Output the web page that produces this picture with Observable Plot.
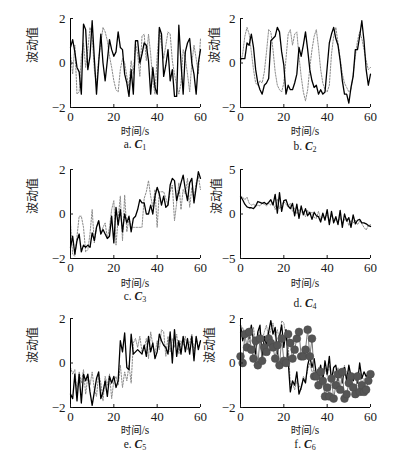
<!DOCTYPE html>
<html><head><meta charset="utf-8">
<script src="https://cdn.jsdelivr.net/npm/d3@7"></script>
<script src="https://cdn.jsdelivr.net/npm/@observablehq/plot@0.6"></script>
<style>
body{margin:0;background:#fff;}
#c{position:relative;width:398px;height:460px;overflow:hidden;font-family:"Liberation Serif","Noto Sans CJK SC",serif;color:#1a1a1a;}
.p{position:absolute;}
.lbl{position:absolute;width:130px;text-align:center;line-height:10px;height:10px;white-space:nowrap;font-family:"Liberation Serif","Noto Sans CJK SC",serif;}
.xl{font-size:10.5px;}
.xl span{font-size:11.5px;}
.cap{font-size:11.5px;}
.cap sub{font-size:8px;vertical-align:-2px;line-height:0;}
</style></head><body><div id="c"></div><script>
const time = [0,1,2,3,4,5,6,7,8,9,10,11,12,13,14,15,16,17,18,19,20,21,22,23,24,25,26,27,28,29,30,31,32,33,34,35,36,37,38,39,40,41,42,43,44,45,46,47,48,49,50,51,52,53,54,55,56,57,58,59,60];
const xTicks = [0,20,40,60];
const yTicks2 = [-2,0,2];
const yTicks5 = [-5,0,5];

const c1Solid = [0.7,1.05,0.5,-0.2,-0.4,-1.4,1.75,1.5,-0.3,0.3,1.9,0.2,-1.4,0.0,1.3,0.0,-0.8,0.1,1.05,0.6,0.3,0.5,1.4,0.7,0.6,-0.5,-0.9,-1.5,-0.3,-1.4,1.0,1.0,0.0,0.4,0.9,0.8,0.1,-1.4,-0.2,-1.1,-1.4,1.6,1.3,-0.6,-0.1,0.6,-0.8,-0.3,-1.5,-1.5,1.7,0.0,-1.4,0.5,0.9,1.1,0.0,-0.5,-1.4,0.0,0.6];
const c1Dotted = [0.4,-0.5,0.8,-1.4,-1.3,0.3,0.9,-0.2,0.6,1.6,1.2,-0.3,-1.0,0.2,0.9,1.6,1.4,1.0,0.3,-0.2,-0.8,-1.2,-1.3,-0.3,0.2,0.0,-0.6,-1.1,0.1,-0.5,0.9,0.4,-0.6,1.2,1.3,0.1,1.3,0.4,-0.8,-1.4,0.3,1.5,0.8,0.2,0.8,1.4,1.3,0.1,-0.5,-1.0,-1.4,-0.9,0.6,0.2,-0.5,-1.3,0.0,0.8,0.2,-0.5,1.1];

const c2Solid = [0.2,0.2,0.2,0.9,0.8,1.3,0.7,-0.3,-0.9,-1.2,-1.4,-1.0,-0.9,-0.7,1.0,1.1,1.2,1.6,1.4,0.5,-0.1,-1.4,-1.0,-1.2,-1.2,-0.9,-0.5,0.7,0.3,0.8,1.4,0.6,-0.3,-0.8,-1.1,-1.0,-1.4,-1.2,-1.4,-1.3,-0.2,0.9,1.3,1.6,1.1,0.8,0.1,-0.8,-1.4,-1.4,-1.8,-1.1,-0.6,0.6,0.6,1.2,1.9,1.0,-0.3,-1.0,-0.5];
const c2Dotted = [0.0,0.4,1.2,1.6,1.3,0.5,-0.3,-0.9,-1.0,-0.8,-0.9,-0.4,0.5,1.5,1.4,0.6,-0.4,-1.0,-1.2,-1.3,-0.9,0.2,1.3,1.5,0.8,1.3,1.4,0.3,-0.6,-1.3,-1.7,-1.2,-0.2,0.6,1.2,1.5,0.7,-0.3,-0.9,-1.2,-1.3,-1.0,0.4,1.2,1.6,0.9,0.2,-0.5,-0.9,-1.1,-1.3,-1.2,-0.5,0.3,1.0,1.4,1.1,0.6,0.1,-0.3,-0.2];

const c3Solid = [-1.5,-1.0,-1.8,-1.2,-0.9,-1.7,-1.4,-1.5,-1.4,-1.5,-0.85,-1.2,-0.6,-0.3,-0.9,-0.7,-0.9,-1.1,-1.0,-0.1,-1.3,0.3,-0.5,0.2,-0.8,0.0,-0.4,-0.1,-0.8,-0.2,-0.1,0.2,0.65,0.5,0.5,0.0,0.0,0.4,0.0,0.8,1.2,0.9,0.4,0.8,0.3,0.4,1.3,1.6,1.5,0.6,1.0,1.4,1.75,1.1,0.6,1.4,1.6,0.5,1.2,1.9,1.6];
const c3Dotted = [-0.4,-1.8,-1.9,-1.0,-0.1,-0.1,-0.6,-1.7,-1.6,-0.9,0.2,-1.3,-0.6,-0.3,-0.9,-0.6,-0.4,-1.1,-0.6,0.2,0.6,-1.4,-0.2,0.8,-1.2,0.85,-0.8,-0.2,-0.6,-0.6,-0.6,-0.6,-0.6,-0.6,0.7,1.0,1.5,0.8,0.3,1.1,-0.6,1.0,1.0,1.0,0.7,0.4,1.0,1.3,-0.3,0.5,1.4,0.2,1.1,0.9,1.6,0.3,1.2,0.6,1.4,1.7,1.1];

const c4Solid = [2.0,1.6,1.1,0.8,0.7,0.7,0.6,0.9,1.4,1.3,1.2,1.3,1.1,1.3,1.6,1.0,2.2,0.1,2.4,0.3,1.5,1.6,0.9,0.6,1.2,-0.2,1.1,-0.5,0.9,-0.1,0.6,-0.2,0.2,-0.6,0.2,-0.2,-0.3,-0.9,0.1,-0.7,0.5,-1.2,0.3,-1.0,-0.3,-1.2,0.4,-1.5,0.0,-0.8,-0.4,-1.5,-0.1,-1.1,-0.7,-0.6,-1.0,-1.0,-1.1,-1.3,-1.4];
const c4Dotted = [1.8,1.9,1.6,1.9,1.2,1.0,1.1,0.9,1.0,0.9,1.2,1.1,0.9,1.2,1.0,1.3,0.5,1.7,0.6,1.0,1.4,1.1,0.8,1.2,0.3,0.7,0.0,0.5,0.2,0.3,-0.3,0.4,-0.1,0.2,-0.4,-0.5,0.3,-0.6,-0.3,-0.4,-0.1,-0.8,-0.2,-0.6,-0.7,-0.9,-0.3,-1.1,-0.6,-0.5,-1.3,-0.7,-1.0,-0.7,-1.2,-0.8,-1.1,-1.5,-1.8,-1.3,-1.2];

const c5Solid = [-1.4,-1.6,-0.5,-1.7,-0.5,-1.8,-0.5,-0.8,-0.5,-1.3,-1.9,-1.3,-0.7,-0.4,-1.6,-1.3,-0.8,-1.5,-0.6,-0.9,-0.6,-1.1,-0.8,1.0,0.5,1.35,-0.2,-0.3,1.3,0.4,0.5,0.6,0.5,0.4,0.8,0.3,1.2,0.5,0.9,0.2,0.5,1.3,1.0,0.8,0.7,0.4,1.4,0.0,1.5,0.3,1.0,0.4,1.2,0.5,1.1,0.4,1.2,0.1,1.2,0.6,1.0];
const c5Dotted = [-0.2,-0.5,-0.3,-1.3,-0.4,-0.9,-0.3,-1.4,-0.6,-1.0,-0.4,-1.2,-1.5,-0.5,-0.9,-1.7,-0.6,-1.0,-0.5,-1.6,-0.8,-0.6,-1.0,-0.1,-1.1,-0.4,-0.8,-0.1,-0.9,0.9,1.1,0.7,1.2,0.5,0.6,1.1,0.2,1.4,0.8,0.4,1.0,0.6,1.5,1.4,0.3,1.2,0.5,1.1,0.7,1.3,0.4,1.0,0.8,1.2,0.6,0.9,1.3,0.5,1.1,0.7,1.0];

const c6Solid = [1.7,1.0,1.4,1.5,1.1,1.7,1.0,0.4,1.4,1.7,0.1,1.2,0.8,1.4,1.9,1.3,1.6,0.4,1.2,1.7,0.7,1.5,0.1,-1.3,-0.8,-1.0,-0.4,-1.4,-1.1,-0.7,-0.9,-0.1,0.3,-0.2,0.2,-0.5,-0.5,-0.1,-0.8,0.1,-0.5,0.3,-0.8,-0.2,-0.1,-0.8,-0.3,-0.9,-0.2,-0.8,-0.1,-0.6,-0.8,-0.5,-0.9,0.0,-0.7,-0.4,-0.6,-0.5,-0.8];
const c6Dotted = [1.4,1.6,1.2,1.5,0.9,1.3,1.6,0.8,1.2,1.5,1.0,1.4,1.7,1.1,1.5,1.8,1.2,1.5,1.0,1.9,1.8,1.2,0.9,-1.0,-0.9,-1.2,-0.8,-1.0,-1.2,-0.6,-0.8,-0.3,0.0,-0.4,-0.3,-0.6,-0.2,-0.7,-0.4,-0.2,-0.6,-0.1,-0.7,-0.3,-0.6,-0.2,-0.7,-0.4,-0.1,-0.6,-0.3,-0.7,-0.5,-0.8,-0.4,-0.6,-0.9,-0.7,-0.8,-0.5,-0.7];
const c6Circles = [0.3,0.0,1.3,0.7,1.4,0.6,0.2,1.0,-0.1,1.1,0.1,0.7,0.5,1.1,0.9,0.7,0.2,0.8,-0.1,1.1,0.1,0.0,1.3,0.9,0.2,0.6,1.1,1.4,0.3,0.3,0.6,1.5,0.3,1.1,-0.6,-0.6,-1.0,-0.4,-0.8,-1.5,-1.1,-1.5,-0.7,-1.6,-1.0,-0.5,-1.2,-0.4,-1.6,-1.4,-0.9,-0.6,-1.1,-1.4,-0.6,-1.3,-1.0,-1.3,-1.2,-0.8,-0.5];

const captionLetters = ["a","b","c","d","e","f"];
const subscripts = ["1","2","3","4","5","6"];

const panels = [
  {solid:c1Solid, dotted:c1Dotted, ticks:yTicks2, col:0, row:0, ylDx:-37, capOff:37},
  {solid:c2Solid, dotted:c2Dotted, ticks:yTicks2, col:1, row:0, ylDx:-25, capOff:39},
  {solid:c3Solid, dotted:c3Dotted, ticks:yTicks2, col:0, row:1, ylDx:-37, capOff:38},
  {solid:c4Solid, dotted:c4Dotted, ticks:yTicks5, col:1, row:1, ylDx:-23, capOff:45},
  {solid:c5Solid, dotted:c5Dotted, ticks:yTicks2, col:0, row:2, ylDx:-37, capOff:37},
  {solid:c6Solid, dotted:c6Dotted, circles:c6Circles, ticks:yTicks2, col:1, row:2, ylDx:-30, capOff:37}
];

const frameTops = [18, 169, 318];
const xlOff = [24, 25, 23];
const frameH = 89;
const cols = [{svgLeft:0, ml:70, w:210}, {svgLeft:190, ml:50, w:190}];
const mt = 10, mb = 20, mr = 10;

const root = document.getElementById("c");

panels.forEach((p, i) => {
  const col = cols[p.col];
  const top = frameTops[p.row];
  const dom = [p.ticks[0], p.ticks[2]];
  const sData = time.map((t, j) => ({t, v: p.solid[j]}));
  const dData = time.map((t, j) => ({t, v: p.dotted[j]}));
  const marks = [
    Plot.line(dData, {x:"t", y:"v", stroke:"#8c8c8c", strokeWidth:1, strokeDasharray:"1.6,1.4"}),
    Plot.line(sData, {x:"t", y:"v", stroke:"#000", strokeWidth:1.3})
  ];
  if (p.circles) {
    const cData = time.map((t, j) => ({t, v: p.circles[j]}));
    marks.push(Plot.line(cData, {x:"t", y:"v", stroke:"#7a7a7a", strokeWidth:1}));
    marks.push(Plot.dot(cData, {x:"t", y:"v", r:3.9, fill:"#555", stroke:"#4a4a4a", strokeWidth:0.5}));
  }
  marks.push(
    Plot.ruleX([0], {stroke:"#000", strokeWidth:1}),
    Plot.ruleY([dom[0]], {stroke:"#000", strokeWidth:1}),
    Plot.axisX({ticks:xTicks, tickSize:-3, tickPadding:7, label:null, fontSize:13, tickFormat:"d"}),
    Plot.axisY({ticks:p.ticks, tickSize:-3, tickPadding:8, label:null, fontSize:13, tickFormat:"d"}),
    Plot.text(["波动值"], {frameAnchor:"left", dx:p.ylDx, rotate:-90, fontSize:12, fontFamily:"Noto Sans CJK SC", fill:"#1a1a1a"})
  );
  const svg = Plot.plot({
    width: col.w, height: mt + frameH + mb,
    marginLeft: col.ml, marginRight: mr, marginTop: mt, marginBottom: mb,
    x: {domain:[0,60]},
    y: {domain: dom},
    style: {fontFamily:"Liberation Serif", fontSize:"13px", background:"transparent", color:"#1a1a1a", overflow:"visible"},
    marks
  });
  const wrap = document.createElement("div");
  wrap.className = "p";
  wrap.style.left = col.svgLeft + "px";
  wrap.style.top = (top - mt) + "px";
  wrap.appendChild(svg);
  root.appendChild(wrap);

  const fx = col.svgLeft + col.ml;
  const fb = top + frameH;
  const xl = document.createElement("div");
  xl.className = "lbl xl";
  xl.style.left = fx + "px";
  xl.style.top = (fb + xlOff[p.row] - 5) + "px";
  xl.innerHTML = "时间<span>/s</span>";
  root.appendChild(xl);

  const cap = document.createElement("div");
  cap.className = "lbl cap";
  cap.style.left = fx + "px";
  cap.style.top = (fb + p.capOff - 5) + "px";
  cap.innerHTML = captionLetters[i] + ". <b><i>C</i></b><sub>" + subscripts[i] + "</sub>";
  root.appendChild(cap);
});
</script></body></html>
